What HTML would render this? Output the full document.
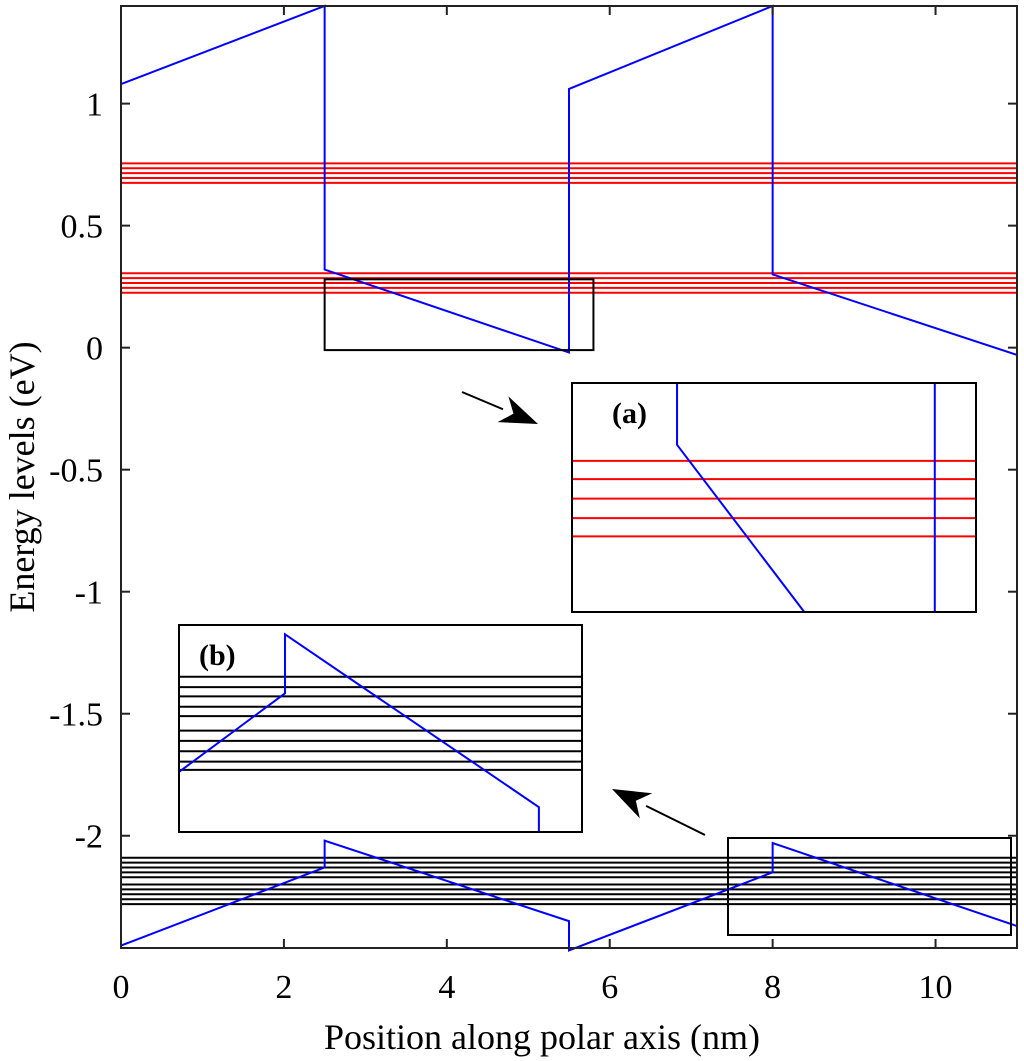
<!DOCTYPE html>
<html><head><meta charset="utf-8"><style>
body{margin:0;background:#fff}
svg{display:block;font-family:"Liberation Serif",serif}
</style></head><body>
<svg id="chart" width="1024" height="1061">
<g id="plot"></g>
</svg>
<script>
// data
const xTicks=[0,2,4,6,8,10];
const yTicks=[1,0.5,0,-0.5,-1,-1.5,-2];
const yTickLabels=["1","0.5","0","-0.5","-1","-1.5","-2"];
const upperBandX=[0,2.5,2.5,5.5,5.5,8,8,11];
const upperBandY=[1.08,1.4,0.32,-0.02,1.06,1.4,0.30,-0.03];
const lowerBandX=[0,2.5,2.5,5.5,5.5,8,8,11];
const lowerBandY=[-2.45,-2.13,-2.02,-2.35,-2.47,-2.15,-2.03,-2.37];
const redLevels=[0.755,0.735,0.715,0.695,0.675,0.305,0.285,0.265,0.245,0.225];
const blackLevels=[-2.09,-2.11,-2.13,-2.15,-2.17,-2.20,-2.22,-2.24,-2.26,-2.28];
// inset local data in [0,1] coords
const insetAX=[0.26,0.26,0.575];
const insetAY=[1,0.73,0];
const insetAVert=[0.898];
const insetALevels=[0.66,0.58,0.495,0.41,0.33];
const insetBX=[0,0.263,0.263,0.893,0.893];
const insetBY=[0.29,0.67,0.955,0.12,0];
const insetBLevels=[0.75,0.70,0.655,0.605,0.56,0.49,0.44,0.39,0.34,0.30];

const L=121,R=1017,T=6,B=948,xmin=0,xmax=11,ymin=-2.46,ymax=1.4;
const sx=v=>L+(v-xmin)/(xmax-xmin)*(R-L);
const sy=v=>B-(v-ymin)/(ymax-ymin)*(B-T);
const NS="http://www.w3.org/2000/svg";
const g=document.getElementById('plot');
function mk(t,a,p){const e=document.createElementNS(NS,t);for(const k in a)e.setAttribute(k,a[k]);(p||g).appendChild(e);return e;}

redLevels.forEach(v=>{const e=mk('line',{x1:L,x2:R,y1:sy(v),y2:sy(v),stroke:'#ff0000','stroke-width':2});

});
blackLevels.forEach(v=>{const e=mk('line',{x1:L,x2:R,y1:sy(v),y2:sy(v),stroke:'#000','stroke-width':2});

});
let e=mk('polyline',{points:upperBandX.map((x,i)=>sx(x)+','+sy(upperBandY[i])).join(' '),fill:'none',stroke:'#0000ff','stroke-width':2});


e=mk('polyline',{points:lowerBandX.map((x,i)=>sx(x)+','+sy(lowerBandY[i])).join(' '),fill:'none',stroke:'#0000ff','stroke-width':2});



e=mk('rect',{x:sx(2.5),y:sy(0.28),width:sx(5.8)-sx(2.5),height:sy(-0.01)-sy(0.28),fill:'none',stroke:'#000','stroke-width':2});


e=mk('rect',{x:728,y:838,width:283,height:97,fill:'none',stroke:'#000','stroke-width':2});



function inset(name,x0,y0,w,h,lx,ly,verts,levels,lc,label){
  const ig=mk('g',{});
  
  
  mk('rect',{x:x0,y:y0,width:w,height:h,fill:'#fff',stroke:'none'},ig);
  const ix=v=>x0+v*w, iy=v=>y0+h-v*h;
  levels.forEach(v=>mk('line',{x1:x0,x2:x0+w,y1:iy(v),y2:iy(v),stroke:lc,'stroke-width':2},ig));
  mk('polyline',{points:lx.map((x,i)=>ix(x)+','+iy(ly[i])).join(' '),fill:'none',stroke:'#0000ff','stroke-width':2},ig);
  verts.forEach(v=>mk('line',{x1:ix(v),x2:ix(v),y1:y0,y2:y0+h,stroke:'#0000ff','stroke-width':2},ig));
  mk('rect',{x:x0,y:y0,width:w,height:h,fill:'none',stroke:'#000','stroke-width':2},ig);
  const t=mk('text',{x:x0+(label=='(a)'?40:20),y:y0+40,'font-size':30,'font-weight':'bold'},ig);t.textContent=label;
}
inset('inset-a',572,383,404,229,insetAX,insetAY,insetAVert,insetALevels,'#ff0000','(a)');
inset('inset-b',179,625,403,207,insetBX,insetBY,[],insetBLevels,'#000','(b)');

function arrow(name,x1,y1,x2,y2){
  const a=mk('g',{});
  
  
  const ang=Math.atan2(y2-y1,x2-x1),L2=38,W=14;
  const bx=x2-L2*Math.cos(ang),by=y2-L2*Math.sin(ang);
  mk('line',{x1:x1,y1:y1,x2:bx,y2:by,stroke:'#000','stroke-width':2},a);
  const px=-Math.sin(ang),py=Math.cos(ang);
  const nx=x2-L2*0.7*Math.cos(ang),ny=y2-L2*0.7*Math.sin(ang);
  mk('polygon',{points:`${x2},${y2} ${bx+px*W},${by+py*W} ${nx},${ny} ${bx-px*W},${by-py*W}`,fill:'#000'},a);
}
arrow('arrow-to-inset-a',462,392,538,424);
arrow('arrow-to-inset-b',705,835,612,789);

e=mk('rect',{x:L,y:T,width:R-L,height:B-T,fill:'none',stroke:'#222','stroke-width':2});


xTicks.forEach(v=>{const x=sx(v);
  mk('line',{x1:x,x2:x,y1:B,y2:B-9,stroke:'#222','stroke-width':2});
  mk('line',{x1:x,x2:x,y1:T,y2:T+9,stroke:'#222','stroke-width':2});
  const t=mk('text',{x:x,y:998,'font-size':34,'text-anchor':'middle'});t.textContent=v;
  
  });
yTicks.forEach((v,i)=>{const y=sy(v);
  mk('line',{x1:L,x2:L+9,y1:y,y2:y,stroke:'#222','stroke-width':2});
  mk('line',{x1:R,x2:R-9,y1:y,y2:y,stroke:'#222','stroke-width':2});
  const t=mk('text',{x:103,y:y+12,'font-size':34,'text-anchor':'end'});t.textContent=yTickLabels[i];
  
  });
let t=mk('text',{x:542,y:1049,'font-size':36,'text-anchor':'middle'});t.textContent='Position along polar axis (nm)';


t=mk('text',{x:0,y:0,'font-size':36,'text-anchor':'middle',transform:`translate(34,${(T+B)/2}) rotate(-90)`});t.textContent='Energy levels (eV)';


</script>
</body></html>
